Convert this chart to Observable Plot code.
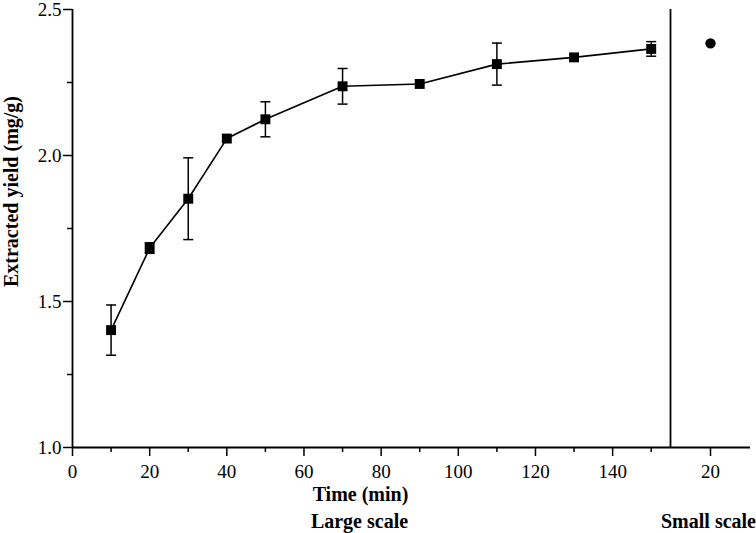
<!DOCTYPE html>
<html>
<head>
<meta charset="utf-8">
<script src="https://cdn.jsdelivr.net/npm/d3@7"></script>
<script src="https://cdn.jsdelivr.net/npm/@observablehq/plot@0.6"></script>
<style>
  html, body { margin: 0; padding: 0; background: white; }
  #wrap { display: flex; flex-direction: row; width: 756px; height: 533px; }
  #wrap svg { display: block; max-width: none; }
</style>
</head>
<body>
<div id="wrap"></div>
<script>
// ---- data ----
const times = [10, 20, 30, 40, 50, 70, 90, 110, 130, 150];          // min
const yields = [1.402, 1.683, 1.852, 2.058, 2.124, 2.237, 2.245, 2.313, 2.336, 2.365]; // mg/g
const errors = [0.086, 0.018, 0.140, 0, 0.060, 0.061, 0, 0.072, 0, 0.025];

const smallX = [20];
const smallY = [2.384];

const xTicks = [0, 20, 40, 60, 80, 100, 120, 140];
const xMinorTicks = [10, 30, 50, 70, 90, 110, 130, 150];
const yTicks = [1.0, 1.5, 2.0, 2.5];
const yMinorTicks = [1.25, 1.75, 2.25];
const smallTicks = [20];

const yLabel = "Extracted yield (mg/g)";
const xLabel = "Time (min)";
const largeLabel = "Large scale";
const smallLabel = "Small scale";

// ---- build ----
const data = times.map((t, i) => ({t, y: yields[i], e: errors[i]}));
const withErr = data.filter(d => d.e > 0);
const caps = withErr.flatMap(d => [{t: d.t, y: d.y - d.e}, {t: d.t, y: d.y + d.e}]);
const capSymbol = {
  draw(ctx, size) {
    const w = Math.sqrt(size / Math.PI);
    ctx.moveTo(-w, 0);
    ctx.lineTo(w, 0);
  }
};

const font = "'Liberation Serif', 'Times New Roman', serif";
const common = {
  height: 533,
  marginTop: 9,
  marginBottom: 86,
  y: {domain: [1.0, 2.5]},
  style: {fontFamily: font, fontSize: "19px", color: "black", background: "white", overflow: "visible"}
};
const labelStyle = {fontSize: 20, fontWeight: "bold", fill: "black", textAnchor: "middle", lineAnchor: "middle"};

const left = Plot.plot({
  ...common,
  width: 670,
  marginLeft: 72,
  marginRight: 0,
  x: {domain: [0, 155]},
  marks: [
    Plot.axisX({ticks: xTicks, tickSize: 9, tickPadding: 8, tickFormat: d => String(d), label: null, strokeWidth: 1.5, fontSize: 19}),
    Plot.axisX({ticks: xMinorTicks, tickSize: 5, tickFormat: () => "", label: null, strokeWidth: 1.5}),
    Plot.axisY({ticks: yTicks, tickSize: 9, tickPadding: 2, tickFormat: d3.format(".1f"), label: null, strokeWidth: 1.5, fontSize: 19}),
    Plot.axisY({ticks: yMinorTicks, tickSize: 5, tickFormat: () => "", label: null, strokeWidth: 1.5}),
    Plot.ruleX([0], {strokeWidth: 1.8}),
    Plot.ruleY([1.0], {strokeWidth: 1.8}),
    Plot.line(data, {x: "t", y: "y", stroke: "black", strokeWidth: 1.6}),
    Plot.ruleX(withErr, {x: "t", y1: d => d.y - d.e, y2: d => d.y + d.e, stroke: "black", strokeWidth: 1.5}),
    Plot.dot(caps, {x: "t", y: "y", symbol: capSymbol, r: 5, stroke: "black", strokeWidth: 1.5, fill: "none"}),
    Plot.dot(data, {x: "t", y: "y", symbol: "square", r: 5.6, fill: "black", stroke: "none"}),
    Plot.text([yLabel], {frameAnchor: "left", rotate: -90, dx: -61, dy: -37, ...labelStyle}),
    Plot.text([xLabel], {frameAnchor: "bottom", dx: -11, dy: 47, ...labelStyle}),
    Plot.text([largeLabel], {frameAnchor: "bottom", dx: -12, dy: 74, ...labelStyle})
  ]
});

const right = Plot.plot({
  ...common,
  width: 86,
  marginLeft: 0,
  marginRight: 6,
  x: {domain: [15, 25]},
  y: {domain: [1.0, 2.5], axis: null},
  marks: [
    Plot.axisX({ticks: smallTicks, tickSize: 9, tickPadding: 8, tickFormat: d => String(d), label: null, strokeWidth: 1.5, fontSize: 19}),
    Plot.ruleX([15], {strokeWidth: 1.8}),
    Plot.ruleY([1.0], {strokeWidth: 1.8}),
    Plot.dot(smallX.map((x, i) => ({x, y: smallY[i]})), {x: "x", y: "y", r: 5.2, fill: "black", stroke: "none"}),
    Plot.text([smallLabel], {frameAnchor: "bottom", dx: -2, dy: 74, ...labelStyle})
  ]
});

const wrap = document.getElementById("wrap");
wrap.appendChild(left);
wrap.appendChild(right);
</script>
</body>
</html>
